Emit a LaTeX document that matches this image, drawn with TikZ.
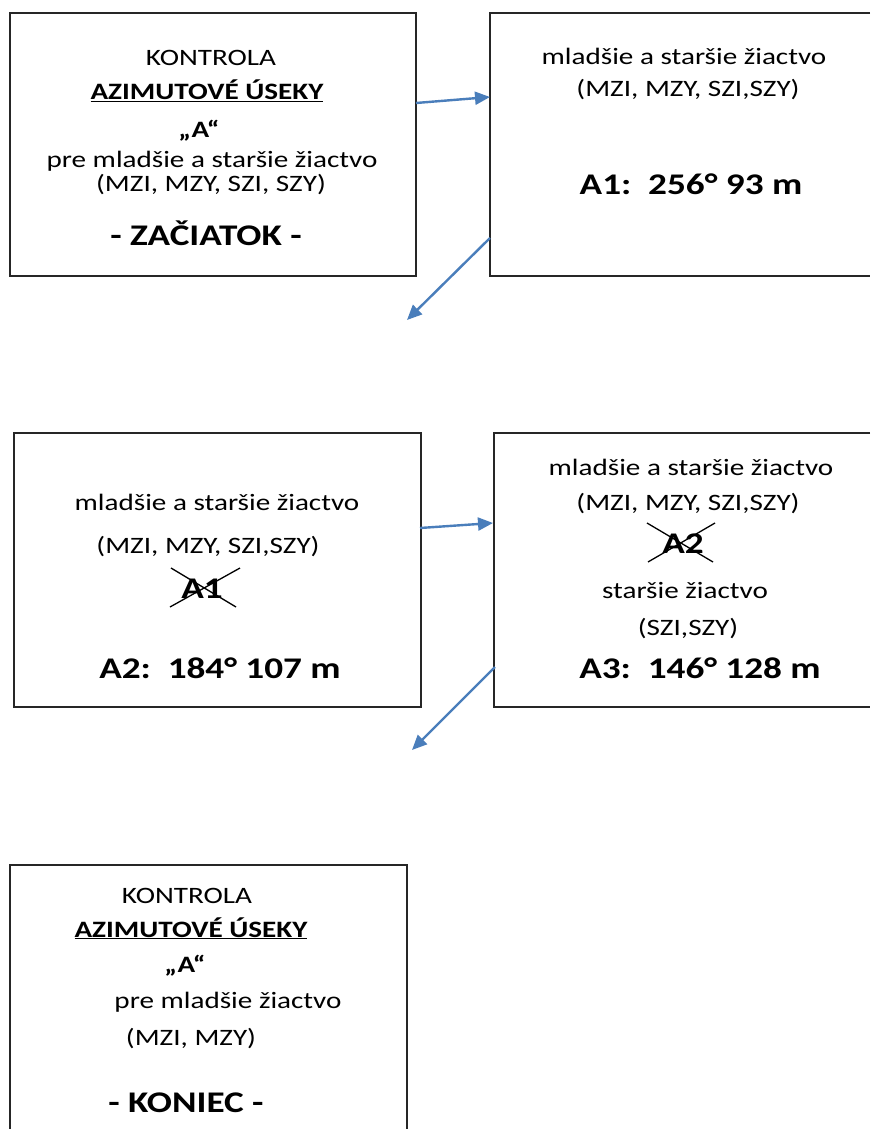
\documentclass[tikz,border=0pt]{standalone}
\usepackage{fontspec}
\setmainfont{Carlito}[FakeStretch=1.24]
\usetikzlibrary{arrows.meta}
\definecolor{arrowblue}{HTML}{4A7EBB}
\definecolor{boxline}{HTML}{262626}
\tikzset{
  box/.style={draw=boxline, line width=1.8pt},
  txt/.style={anchor=base, inner sep=0pt, font=\fontsize{23.5}{28}\selectfont},
  bld/.style={anchor=base, inner sep=0pt, font=\fontsize{23.5}{28}\selectfont\bfseries},
  big/.style={anchor=base, inner sep=0pt, font=\fontsize{30}{36}\selectfont\bfseries},
  flow/.style={draw=arrowblue, line width=2.4pt, -{Triangle[length=15pt,width=13pt]}},
  strike/.style={draw=black, line width=1.3pt},
}
\begin{document}
\begin{tikzpicture}[x=1pt,y=-1pt]
\useasboundingbox (0,0) rectangle (870,1129);
\fill[white] (0,0) rectangle (870,1129);

% boxes
\draw[box] (10,13) rectangle (416,276);
\draw[box] (870,13) -- (490,13) -- (490,276) -- (870,276);
\draw[box] (14,433) rectangle (421,707);
\draw[box] (870,433) -- (494,433) -- (494,707) -- (870,707);
\draw[box] (10,1129) -- (10,865) -- (407,865) -- (407,1129);

% box 1
\node[txt] (k1) at (211,66) {KONTROLA};
\node[bld] (az1) at (207,100) {\underline{AZIMUTOVÉ ÚSEKY}};
\node[bld] (q1) at (199,137) {„A“};
\node[txt] (p1) at (212,167) {pre mladšie a staršie žiactvo};
\node[txt] (m1) at (211,191) {(MZI, MZY, SZI, SZY)};
\node[big] (z1) at (206,245) {- ZAČIATOK -};

% box 2
\node[txt] (l2) at (684,65) {mladšie a staršie žiactvo};
\node[txt] (m2) at (688,97) {(MZI, MZY, SZI,SZY)};
\node[big] (a2) at (691,194) {A1:~~256° 93 m};

% box 3
\node[txt] (l3) at (217,510) {mladšie a staršie žiactvo};
\node[txt] (m3) at (208,553) {(MZI, MZY, SZI,SZY)};
\node[big] (x3) at (202,598) {A1};
\draw[strike] (170,607) -- (240,568);
\draw[strike] (171,568) -- (236,607);
\node[big] (a3) at (220,678) {A2:~~184° 107 m};

% box 4
\node[txt] (l4) at (691,475) {mladšie a staršie žiactvo};
\node[txt] (m4) at (688,510) {(MZI, MZY, SZI,SZY)};
\node[big] (x4) at (683,553) {A2};
\draw[strike] (648,562) -- (715,523);
\draw[strike] (647,523) -- (713,562);
\node[txt] (s4) at (685,598) {staršie žiactvo};
\node[txt] (z4) at (688,635) {(SZI,SZY)};
\node[big] (a4) at (700,678) {A3:~~146° 128 m};

% box 5
\node[txt] (k5) at (187,903) {KONTROLA};
\node[bld] (az5) at (191,937) {\underline{AZIMUTOVÉ ÚSEKY}};
\node[bld] (q5) at (185,972) {„A“};
\node[txt] (p5) at (228,1008) {pre mladšie žiactvo};
\node[txt] (m5) at (191,1045) {(MZI, MZY)};
\node[big] (e5) at (186,1112) {- KONIEC -};

% connectors
\coordinate (f1s) at (416,103);
\coordinate (f1e) at (490,97);
\coordinate (f2s) at (490,238);
\coordinate (f2e) at (407,320);
\coordinate (f3s) at (420,528);
\coordinate (f3e) at (493,523);
\coordinate (f4s) at (495,667);
\coordinate (f4e) at (412,750);
\draw[flow] (f1s) -- (f1e);
\draw[flow] (f2s) -- (f2e);
\draw[flow] (f3s) -- (f3e);
\draw[flow] (f4s) -- (f4e);
\end{tikzpicture}
\end{document}
